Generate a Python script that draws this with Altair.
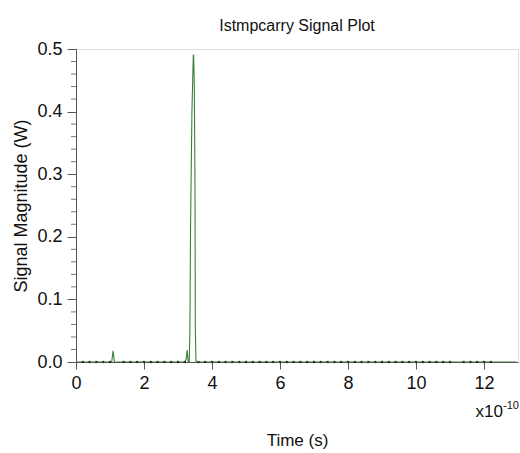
import altair as alt
import pandas as pd

# Time in units of 1e-10 s, signal in W
t_base_a = [0.0, 0.2, 0.4, 0.6, 0.8, 1.0]
v_base_a = [0, 0, 0, 0, 0, 0]
t_spike1 = [1.05, 1.09, 1.13]
v_spike1 = [0.0, 0.018, 0.0]
t_base_b = [1.4, 1.6, 1.8, 2.0, 2.2, 2.4, 2.6, 2.8, 3.0, 3.2]
v_base_b = [0, 0, 0, 0, 0, 0, 0, 0, 0, 0]
t_spike2 = [3.24, 3.27, 3.30, 3.33, 3.35, 3.37, 3.41, 3.45, 3.46, 3.48, 3.50, 3.51, 3.53]
v_spike2 = [0.004, 0.019, 0.0, 0.0, 0.05, 0.22, 0.40, 0.49, 0.49, 0.44, 0.28, 0.05, 0.0]
t_base_c = [3.6, 3.8, 4.0, 4.2, 4.4, 4.6, 4.8, 5.0, 5.2, 5.4, 5.6, 5.8, 6.0, 6.2, 6.4,
            6.6, 6.8, 7.0, 7.2, 7.4, 7.6, 7.8, 8.0, 8.2, 8.4, 8.6, 8.8, 9.0, 9.2, 9.4,
            9.6, 9.8, 10.0, 10.2, 10.4, 10.6, 10.8, 11.0]
v_base_c = [0] * len(t_base_c)
t_base_d = [11.4, 11.6, 11.8, 12.0, 12.2]
v_base_d = [0, 0, 0, 0, 0]
t_end = [12.95]
v_end = [0]

marker_t = t_base_a[1:] + t_base_b + t_base_c + t_base_d

times = t_base_a + t_spike1 + t_base_b + t_spike2 + t_base_c + t_base_d + t_end
vals = v_base_a + v_spike1 + v_base_b + v_spike2 + v_base_c + v_base_d + v_end

line_df = pd.DataFrame({"t": times, "v": vals})
mark_df = pd.DataFrame({"t": marker_t, "v": [0] * len(marker_t)})

x_ticks = [0, 0.5, 1, 1.5, 2, 2.5, 3, 3.5, 4, 4.5, 5, 5.5, 6, 6.5, 7, 7.5, 8, 8.5,
           9, 9.5, 10, 10.5, 11, 11.5, 12, 12.5, 13]
y_major = [0.0, 0.1, 0.2, 0.3, 0.4, 0.5]
y_minor = [0.02, 0.04, 0.06, 0.08, 0.12, 0.14, 0.16, 0.18, 0.22, 0.24, 0.26, 0.28,
           0.32, 0.34, 0.36, 0.38, 0.42, 0.44, 0.46, 0.48]

W, H = 442, 313
FONT = "Liberation Sans"

xscale = alt.Scale(domain=[0, 13], nice=False, zero=False)
yscale = alt.Scale(domain=[0, 0.5], nice=False)

line = alt.Chart(line_df).mark_line(color="#3a803a", strokeWidth=1.1, clip=True).encode(
    x=alt.X("t:Q", scale=xscale, title="Time (s)",
            axis=alt.Axis(values=x_ticks,
                          labelExpr="datum.value % 2 == 0 ? datum.label : ''",
                          labelFlush=False, labelOverlap=False,
                          tickSize=7, labelFontSize=18, labelPadding=5,
                          titleFontSize=17, titlePadding=40, titleFontWeight="normal",
                          grid=False, domainColor="#555", tickColor="#555",
                          labelColor="#111", titleColor="#111", labelFont=FONT, titleFont=FONT)),
    y=alt.Y("v:Q", scale=yscale, title="Signal Magnitude (W)",
            axis=alt.Axis(values=y_major, format=".1f", tickSize=9, labelFontSize=18,
                          labelFlush=False,
                          labelPadding=5, titleFontSize=18, titlePadding=6,
                          titleFontWeight="normal", grid=False, domainColor="#555",
                          tickColor="#555", labelColor="#111", titleColor="#111",
                          labelFont=FONT, titleFont=FONT)),
)

points = alt.Chart(mark_df).mark_point(shape="square", size=5, filled=True,
                                       color="#243824", opacity=1).encode(
    x=alt.X("t:Q", scale=xscale),
    y=alt.Y("v:Q", scale=yscale),
)

minor_df = pd.DataFrame({"m": y_minor})
minor = alt.Chart(minor_df).mark_rule(color="#777", strokeWidth=1).encode(
    y=alt.Y("m:Q", scale=yscale),
    x=alt.value(-5),
    x2=alt.value(0),
)

note_df = pd.DataFrame({"a": [1]})
x10 = alt.Chart(note_df).mark_text(text="x10", align="right", baseline="alphabetic",
                                    fontSize=17, font=FONT, color="#111").encode(
    x=alt.value(W - 15), y=alt.value(H + 55))
exp = alt.Chart(note_df).mark_text(text="-10", align="left", baseline="alphabetic",
                                    fontSize=11, font=FONT, color="#111").encode(
    x=alt.value(W - 15), y=alt.value(H + 47))

chart = alt.layer(minor, line, points, x10, exp).properties(
    width=W, height=H,
    title=alt.TitleParams("Istmpcarry Signal Plot", fontSize=16, font=FONT,
                          fontWeight="normal", color="#111", offset=6),
    autosize=alt.AutoSizeParams(type="none"),
    padding={"left": 76, "top": 49, "right": 2, "bottom": 91},
).configure_view(stroke="#666", strokeWidth=1.5).configure(background="white")

chart.save("out.html", embed_options={"renderer": "svg", "actions": False})
